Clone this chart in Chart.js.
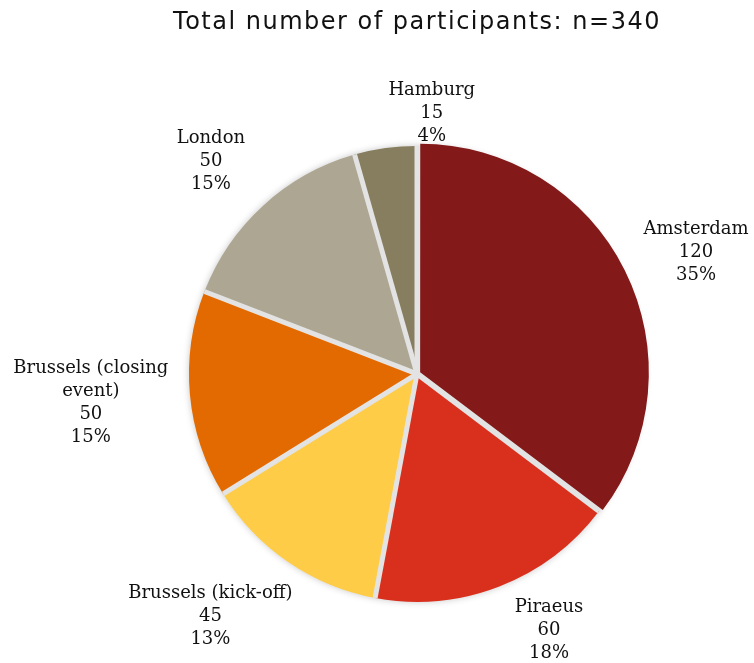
<!DOCTYPE html>
<html>
<head>
<meta charset="utf-8">
<script src="https://cdn.jsdelivr.net/npm/chart.js@4"></script>
<style>
    html, body { margin: 0; padding: 0; background: #fff; }
    #wrap { width: 754px; height: 663px; }
</style>
</head>
<body>
<div id="wrap"><canvas id="pieChart" width="754" height="663"></canvas></div>
<script>
var cities = ['Amsterdam', 'Piraeus', 'Brussels (kick-off)', 'Brussels (closing event)', 'London', 'Hamburg'];
var participants = [120, 60, 45, 50, 50, 15];
var sliceColors = ['#84191a', '#d9301e', '#fecc47', '#e36a00', '#ada692', '#877d5f'];
var sliceOffsets = [14, 0, 0, 0, 0, 0];
// small hand tweaks so labels sit where the original put them
var labelNudge = [[10, 4], [30, -7], [-20, 9], [-2, 2], [-16, -4], [55, 19]];

(function () {
    var labelFont = '18px "DejaVu Serif", Georgia, serif';
    var lineH = 23;
    var gap = 20;
    var maxLabelWidth = 200;
    var gapColor = '#e3e3e3';

    function wrapText(ctx, text) {
        var words = text.split(' ');
        var lines = [];
        var line = '';
        words.forEach(function (w) {
            var test = line ? line + ' ' + w : w;
            if (line && ctx.measureText(test).width > maxLabelWidth) {
                lines.push(line);
                line = w;
            } else {
                line = test;
            }
        });
        if (line) {
            lines.push(line);
        }
        return lines;
    }

    // wider tracking for the title, reset before the pie is drawn
    var titleSpacing = {
        id: 'titleSpacing',
        beforeDraw: function (chart) { chart.ctx.letterSpacing = '1.5px'; },
        beforeDatasetsDraw: function (chart) { chart.ctx.letterSpacing = '0px'; }
    };

    // grey backdrop with soft shadow, shows through as the separators
    var pieBackdrop = {
        id: 'pieBackdrop',
        beforeDatasetsDraw: function (chart) {
            var arc = chart.getDatasetMeta(0).data[0];
            if (!arc) {
                return;
            }
            var p = arc.getProps(['x', 'y', 'outerRadius'], true);
            var ctx = chart.ctx;
            ctx.save();
            ctx.shadowColor = 'rgba(0,0,0,0.22)';
            ctx.shadowBlur = 7;
            ctx.fillStyle = gapColor;
            ctx.beginPath();
            ctx.arc(p.x, p.y, p.outerRadius, 0, Math.PI * 2);
            ctx.fill();
            ctx.restore();
        },
        afterDatasetsDraw: function (chart) {
            var ctx = chart.ctx;
            ctx.save();
            ctx.strokeStyle = gapColor;
            ctx.lineWidth = 5;
            ctx.lineCap = 'butt';
            chart.getDatasetMeta(0).data.forEach(function (arc) {
                var p = arc.getProps(['x', 'y', 'startAngle', 'outerRadius'], true);
                ctx.beginPath();
                ctx.moveTo(p.x, p.y);
                ctx.lineTo(p.x + Math.cos(p.startAngle) * p.outerRadius, p.y + Math.sin(p.startAngle) * p.outerRadius);
                ctx.stroke();
            });
            ctx.restore();
        }
    };

    var outsideLabels = {
        id: 'outsideLabels',
        afterDatasetsDraw: function (chart) {
            var ctx = chart.ctx;
            var meta = chart.getDatasetMeta(0);
            var data = chart.data.datasets[0].data;
            var total = data.reduce(function (a, b) { return a + b; }, 0);
            ctx.save();
            ctx.font = labelFont;
            ctx.fillStyle = '#111';
            ctx.textAlign = 'center';
            ctx.textBaseline = 'middle';
            meta.data.forEach(function (arc, i) {
                var p = arc.getProps(['x', 'y', 'startAngle', 'endAngle', 'outerRadius'], true);
                var mid = (p.startAngle + p.endAngle) / 2;
                var dx = Math.cos(mid);
                var dy = Math.sin(mid);
                var lines = wrapText(ctx, chart.data.labels[i]);
                lines.push(String(data[i]));
                lines.push(Math.round(data[i] / total * 100) + '%');
                var w = 0;
                lines.forEach(function (l) { w = Math.max(w, ctx.measureText(l).width); });
                var halfW = w / 2;
                var halfH = lines.length * lineH / 2;
                var dist = p.outerRadius + gap;
                var cx = p.x + dx * dist + dx * halfW + labelNudge[i][0];
                var cy = p.y + dy * dist + dy * halfH + labelNudge[i][1];
                lines.forEach(function (l, k) {
                    ctx.fillText(l, cx, cy - halfH + lineH * (k + 0.5));
                });
            });
            ctx.restore();
        }
    };

    window.addEventListener('DOMContentLoaded', function () {
        new Chart(document.getElementById('pieChart'), {
            type: 'pie',
            data: {
                labels: cities,
                datasets: [{
                    data: participants,
                    backgroundColor: sliceColors,
                    borderWidth: 0,
                    offset: sliceOffsets,
                    radius: 228
                }]
            },
            options: {
                responsive: false,
                animation: false,
                events: [],
                layout: { padding: { left: 82, right: 2, top: 0, bottom: 0 } },
                plugins: {
                    legend: { display: false },
                    tooltip: { enabled: false },
                    title: {
                        display: true,
                        text: 'Total number of participants: n=340',
                        color: '#111',
                        font: { family: '"DejaVu Sans", Verdana, sans-serif', size: 24, weight: 'normal', lineHeight: 1.2 },
                        padding: { top: 8, bottom: 48 }
                    }
                }
            },
            plugins: [titleSpacing, pieBackdrop, outsideLabels]
        });
    });
})();
</script>
</body>
</html>
